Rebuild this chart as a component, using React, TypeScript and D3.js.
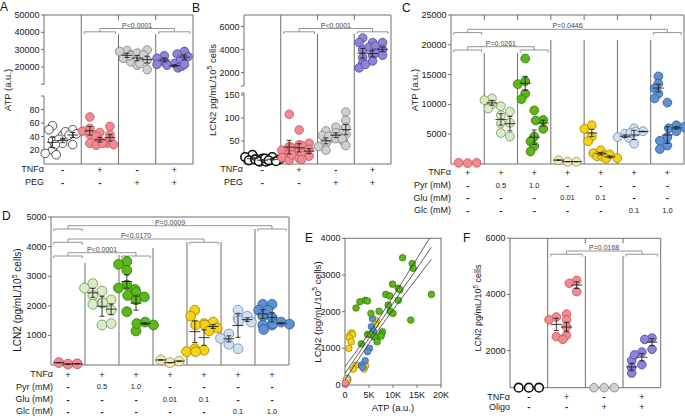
import React from "react";
import * as d3 from "d3";

const FONT = "'Liberation Sans', Arial, Helvetica, sans-serif";

// ---------------- colours ----------------
type Sty = { fill: string; stroke: string; sw?: number };
const S_OPEN: Sty = { fill: "#ffffff", stroke: "#2b2b2b" };
const S_OPEN_BOLD: Sty = { fill: "#ffffff", stroke: "#111111", sw: 1.6 };
const S_RED: Sty = { fill: "#f28a90", stroke: "#c0505c" };
const S_GRAY: Sty = { fill: "#d0d0d0", stroke: "#7c7c7c" };
const S_PURPLE: Sty = { fill: "#8c84d6", stroke: "#4e4698" };
const S_LGREEN: Sty = { fill: "#d8edc4", stroke: "#6f8f58" };
const S_GREEN: Sty = { fill: "#5ab818", stroke: "#357008" };
const S_PYELLOW: Sty = { fill: "#f2e9b4", stroke: "#978e55" };
const S_YELLOW: Sty = { fill: "#f6d114", stroke: "#9c8200" };
const S_LBLUE: Sty = { fill: "#cfe0f5", stroke: "#6f86a8" };
const S_BLUE: Sty = { fill: "#5e90d2", stroke: "#2f5b92" };

// ---------------- Panel A ----------------
const A_TNF = ["-", "+", "-", "+"];
const A_PEG = ["-", "-", "+", "+"];
const A_CTRL = [[56, 50, 34, 20, 15, 13], [42, 36, 30, 28], [50, 47, 44, 42, 28]];
const A_TNFA = [[69, 52, 48, 43, 30], [46, 40, 33, 27, 30], [55, 43, 35, 30, 28]];
const A_PEGV = [[29500, 29000, 27000, 25000, 23000], [28000, 26500, 25000, 21000], [29800, 27000, 24000, 22000, 18500]];
const A_BOTH = [[26500, 25000, 23000, 21500], [22000, 21000, 19500, 20500], [29000, 27500, 26000, 24500, 21500]];
const A_TICKS_LOW = [20, 40, 60, 80];
const A_TICKS_HIGH = [20000, 30000, 40000, 50000];

// ---------------- Panel B ----------------
const B_TNF = ["-", "+", "-", "+"];
const B_PEG = ["-", "-", "+", "+"];
const B_CTRL = [[20, 15, 10, 8, 5], [12, 10, 8, 6, 5], [15, 12, 10, 8, 6]];
const B_TNFA = [[108, 38, 30, 22, 14, 8], [74, 42, 35, 28, 20, 12], [45, 40, 32, 24, 17, 10]];
const B_PEGV = [[72, 62, 55, 45, 38, 30], [80, 68, 60, 55, 50], [113, 95, 80, 65, 55, 40]];
const B_BOTH = [[5000, 4600, 4000, 3300, 2800, 2400], [4600, 4200, 3900, 3500, 3000, 2700], [4600, 4300, 4000, 3700, 3500]];
const B_TICKS_LOW = [50, 100, 150];
const B_TICKS_HIGH = [2000, 4000, 6000];

// ---------------- Panels C & D conditions ----------------
const COND_TNF = ["+", "+", "+", "+", "+", "+", "+"];
const COND_PYR = ["-", "0.5", "1.0", "-", "-", "-", "-"];
const COND_GLU = ["-", "-", "-", "0.01", "0.1", "-", "-"];
const COND_GLC = ["-", "-", "-", "-", "-", "0.1", "1.0"];

// ---------------- Panel C (ATP) ----------------
const C_TNF = [[200], [150], [200]];
const C_PYR05 = [[11000, 10700, 10000, 9300], [9700, 8200, 6800, 5200], [8800, 6900, 4600]];
const C_PYR10 = [[17700, 13900, 13400, 11800, 10900], [9000, 4600, 3800, 3000, 2100], [7400, 7300, 5900]];
const C_GLU001 = [[650], [400], [400]];
const C_GLU01 = [[6500, 5900, 4600, 3800], [2300, 1800, 1500, 1300], [1600, 1300, 1000, 900]];
const C_GLC01 = [[5100, 4500, 4400], [6000, 5200, 3400], [5500, 5400]];
const C_GLC10 = [[14700, 13500, 12700, 11800, 11000], [10300, 4500, 3900, 3100, 2500], [6500, 6000, 5500, 6200]];
const C_TICKS = [5000, 10000, 15000, 20000, 25000];

// ---------------- Panel D (LCN2) ----------------
const D_TNF = [[80], [30], [40]];
const D_PYR05 = [[2750, 2600, 2350, 2050], [2500, 2100, 1350], [2200, 2100, 1850, 1400]];
const D_PYR10 = [[3500, 3400, 3200, 2700, 2600, 2550, 1800], [2450, 2350, 2300, 2200, 1150], [1450, 1400, 1350]];
const D_GLU001 = [[170], [80], [130]];
const D_GLU01 = [[1850, 1650, 550, 450], [1400, 1350, 500, 450], [1450, 1350, 1250, 1150]];
const D_GLC01 = [[1050, 900, 700], [1850, 1600, 550], [1650, 1500, 1450]];
const D_GLC10 = [[2050, 1850, 1650, 1350], [2050, 1850, 1600, 1350, 1200], [1450, 1400, 1380]];
const D_TICKS = [1000, 2000, 3000, 4000, 5000];

// ---------------- Panel E (correlation) ----------------
const E_PYR: [number, number][] = [
  [12000, 3470], [14000, 3310], [14200, 3180], [9900, 2750], [11100, 2640], [11400, 2600],
  [8500, 2470], [9300, 2430], [11100, 2310], [9000, 2180], [9400, 2010], [10000, 1950],
  [3100, 2270], [4200, 2310], [4700, 2290], [2300, 2100], [7100, 2010], [5400, 1950],
  [18000, 2470], [13700, 1770], [4700, 1380], [6100, 1320], [7800, 1450], [7600, 1380],
  [7500, 1330], [6700, 1180], [3400, 1120], [5300, 1380], [500, 180], [300, 120],
];
const E_GLU: [number, number][] = [
  [1400, 1420], [1000, 1360], [1600, 1380], [900, 1290], [1300, 1180], [800, 1000],
  [6500, 1750], [6300, 1650], [6600, 1330], [4300, 520], [4000, 430], [2300, 540],
  [1700, 430], [300, 160], [600, 130], [200, 80],
];
const E_GLC: [number, number][] = [
  [5700, 1810], [5500, 1590], [5900, 1470], [5400, 1380], [5100, 1000], [4700, 910],
  [4200, 660], [3400, 540], [3700, 480], [6200, 1300],
];
const E_TNFONLY: [number, number][] = [[60, 20], [120, 40], [80, 60]];
const E_GLULOW: [number, number][] = [[400, 170], [250, 90], [350, 130]];
const E_FIT_X = [0, 2500, 5000, 7500, 10000, 12500, 15000, 18000];
const E_FIT_MID = [318, 795, 1273, 1750, 2228, 2706, 3183, 3756];
const E_FIT_LO = [138, 645, 1135, 1600, 2048, 2485, 2915, 3426];
const E_FIT_HI = [498, 945, 1411, 1900, 2408, 2927, 3451, 4086];
const E_XTICKS = [0, 5000, 10000, 15000, 20000];
const E_YTICKS = [0, 1000, 2000, 3000, 4000];

// ---------------- Panel F ----------------
const F_TNF = ["-", "+", "-", "+"];
const F_OLIGO = ["-", "-", "+", "+"];
const F_CTRL = [[0], [0], [0]];
const F_TNFA = [[3200, 3100, 2500], [3300, 3100, 2850, 2550, 2400], [4500, 4400, 4100]];
const F_OLIGOV = [[0], [0], [0]];
const F_BOTH = [[1650, 1400, 1200], [1950, 1850, 1500], [2450, 2400, 2050]];
const F_TICKS = [2000, 4000, 6000];

// ---------------- generic dot panel ----------------
interface Bracket { from: number; to: number; level: number; text: string }
interface Row { label: string; values: string[]; y: number }
interface PanelSpec {
  left: number; right: number; top: number; bottom: number;
  yOf: (v: number) => number;
  segments: [number, number][];
  ticks: number[];
  groups: number[][][];
  styles: Sty[];
  r: number;
  resume: number[];
  stubs: boolean[];
  brackets: Bracket[];
  rows: Row[];
  rowX: number;
  noBarSingles?: boolean[];
}

function dodge(values: number[], cx: number, yOf: (v: number) => number, r: number) {
  const placed: { x: number; y: number }[] = [];
  const offs = [0, -0.85 * r, 0.85 * r, -1.7 * r, 1.7 * r];
  for (const v of values) {
    const y = yOf(v);
    let best = 0;
    let bestD = -1;
    for (const o of offs) {
      let md = Infinity;
      for (const q of placed) md = Math.min(md, Math.hypot(q.x - (cx + o), q.y - y));
      if (md >= 1.25 * r) { best = o; bestD = md; break; }
      if (md > bestD) { bestD = md; best = o; }
    }
    placed.push({ x: cx + best, y });
  }
  return placed;
}

const LINE = "#6e6e6e";

function DotPanel({ s }: { s: PanelSpec }) {
  const n = s.groups.length;
  const band = d3.scaleBand<number>().domain(d3.range(n)).range([s.left, s.right]);
  const w = band.bandwidth();
  const cx = (i: number) => (band(i) as number) + w / 2;
  const subX = (i: number, j: number, m: number) => cx(i) + (j - (m - 1) / 2) * 0.27 * w;
  const els: React.ReactNode[] = [];
  let k = 0;
  els.push(<path key={k++} d={`M${s.left},${s.top}H${s.right}V${s.bottom}H${s.left}`} fill="none" stroke={LINE} strokeWidth={1} />);
  s.segments.forEach(([a, b], idx) => {
    els.push(<line key={k++} x1={s.left} x2={s.left} y1={a} y2={b} stroke={LINE} strokeWidth={1} />);
    if (s.segments.length > 1) {
      if (idx > 0) els.push(<line key={k++} x1={s.left - 3} x2={s.left} y1={a} y2={a} stroke={LINE} />);
      if (idx < s.segments.length - 1) els.push(<line key={k++} x1={s.left - 3} x2={s.left} y1={b} y2={b} stroke={LINE} />);
    }
  });
  s.ticks.forEach((t) => {
    const y = s.yOf(t);
    els.push(<line key={k++} x1={s.left - 3} x2={s.left} y1={y} y2={y} stroke={LINE} />);
    els.push(
      <text key={k++} x={s.left - 4.5} y={y} textAnchor="end" dominantBaseline="central" fontSize={9} fill="#1a1a1a">
        {String(t)}
      </text>
    );
  });
  for (let i = 1; i < n; i++) {
    const x = band(i) as number;
    els.push(<line key={k++} x1={x} x2={x} y1={s.resume[i - 1]} y2={s.bottom} stroke={LINE} strokeWidth={1} />);
    if (s.stubs[i - 1]) els.push(<line key={k++} x1={x} x2={x} y1={s.top} y2={s.top + 5} stroke={LINE} />);
  }
  s.brackets.forEach((b) => {
    const by = b.level + 3.3;
    const drop = 2.3;
    const hw = 0.42 * w;
    const small = (c: number) => `M${c - hw},${by + drop}V${by}H${c + hw}V${by + drop}`;
    const c0 = cx(b.from);
    const c1 = cx(b.to);
    els.push(
      <path key={k++} d={`${small(c0)}M${c0},${by}V${b.level}H${c1}V${by}${small(c1)}`} fill="none" stroke="#7a7a7a" strokeWidth={0.8} />
    );
    els.push(
      <text key={k++} x={(c0 + c1) / 2} y={b.level - 0.9} textAnchor="middle" fontSize={7} fill="#444">
        {b.text}
      </text>
    );
  });
  s.groups.forEach((g, i) => {
    const st = s.styles[i];
    g.forEach((vals, j) => {
      const pts = dodge(vals, subX(i, j, g.length), s.yOf, s.r);
      pts.forEach((p) => {
        els.push(<circle key={k++} cx={p.x} cy={p.y} r={s.r} fill={st.fill} stroke={st.stroke} strokeWidth={st.sw ?? 0.8} />);
      });
    });
  });
  s.groups.forEach((g, i) => {
    if (s.noBarSingles && s.noBarSingles[i]) return;
    g.forEach((vals, j) => {
      const x = subX(i, j, g.length);
      const m = d3.mean(vals) as number;
      const sd = vals.length > 1 ? (d3.deviation(vals) as number) : 0;
      const se = sd / Math.sqrt(vals.length);
      const yM = s.yOf(m);
      const yHi = s.yOf(m + se);
      const yLo = s.yOf(Math.max(0, m - se));
      els.push(
        <path key={k++} d={`M${x - 5.5},${yM}H${x + 5.5}M${x},${yHi}V${yLo}M${x - 2.5},${yHi}H${x + 2.5}M${x - 2.5},${yLo}H${x + 2.5}`} fill="none" stroke="#222" strokeWidth={0.9} />
      );
    });
  });
  s.rows.forEach((row) => {
    els.push(
      <text key={k++} x={s.rowX} y={row.y} textAnchor="end" dominantBaseline="central" fontSize={9} fill="#1a1a1a">
        {row.label}
      </text>
    );
    row.values.forEach((v, i) => {
      const pm = v === "+" || v === "-";
      els.push(
        <text key={k++} x={cx(i)} y={row.y} textAnchor="middle" dominantBaseline="central" fontSize={pm ? 9.5 : 7.5} fontWeight={v === "-" ? "bold" : "normal"} fill="#1a1a1a">
          {v}
        </text>
      );
    });
  });
  return <g>{els}</g>;
}

// ---------------- scales ----------------
const aLow = d3.scaleLinear().domain([0, 100]).range([163.5, 96]);
const aHigh = d3.scaleLinear().domain([10000, 50000]).range([84.3, 15]);
const bLow = d3.scaleLinear().domain([0, 150]).range([164, 95]);
const bHigh = d3.scaleLinear().domain([1000, 7000]).range([84, 15]);
const cY = d3.scaleLinear().domain([0, 25000]).range([164, 15]);
const dY = d3.scaleLinear().domain([0, 5000]).range([365, 217]);
const fY = d3.scaleLinear().domain([680, 6000]).range([387.7, 238.3]).clamp(true);

const specA: PanelSpec = {
  left: 44, right: 193, top: 15, bottom: 164,
  yOf: (v) => (v > 100 ? aHigh(v) : aLow(v)),
  segments: [[15, 84.3], [96, 164]],
  ticks: [...A_TICKS_LOW, ...A_TICKS_HIGH],
  groups: [A_CTRL, A_TNFA, A_PEGV, A_BOTH],
  styles: [S_OPEN, S_RED, S_GRAY, S_PURPLE],
  r: 4.3,
  resume: [15, 34, 34],
  stubs: [false, true, true],
  brackets: [{ from: 1, to: 3, level: 28.5, text: "P<0.0001" }],
  rows: [{ label: "TNFα", values: A_TNF, y: 169 }, { label: "PEG", values: A_PEG, y: 182.3 }],
  rowX: 44,
};

const specB: PanelSpec = {
  left: 244, right: 391, top: 15, bottom: 164,
  yOf: (v) => (v > 150 ? bHigh(v) : bLow(v)),
  segments: [[15, 86], [93, 164]],
  ticks: [...B_TICKS_LOW, ...B_TICKS_HIGH],
  groups: [B_CTRL, B_TNFA, B_PEGV, B_BOTH],
  styles: [S_OPEN_BOLD, S_RED, S_GRAY, S_PURPLE],
  r: 4.3,
  resume: [15, 34, 34],
  stubs: [false, true, true],
  brackets: [{ from: 1, to: 3, level: 28.5, text: "P<0.0001" }],
  rows: [{ label: "TNFα", values: B_TNF, y: 169 }, { label: "PEG", values: B_PEG, y: 182.3 }],
  rowX: 243,
};

const specC: PanelSpec = {
  left: 451, right: 684, top: 15, bottom: 164,
  yOf: (v) => cY(v),
  segments: [[15, 164]],
  ticks: C_TICKS,
  groups: [C_TNF, C_PYR05, C_PYR10, C_GLU001, C_GLU01, C_GLC01, C_GLC10],
  styles: [S_RED, S_LGREEN, S_GREEN, S_PYELLOW, S_YELLOW, S_LBLUE, S_BLUE],
  r: 4.4,
  resume: [53, 53, 40, 40, 40, 40],
  stubs: [true, true, true, true, true, true],
  brackets: [
    { from: 0, to: 6, level: 29.3, text: "P=0.0446" },
    { from: 0, to: 2, level: 46.7, text: "P=0.0261" },
  ],
  rows: [
    { label: "TNFα", values: COND_TNF, y: 172.3 },
    { label: "Pyr (mM)", values: COND_PYR, y: 185 },
    { label: "Glu (mM)", values: COND_GLU, y: 197.7 },
    { label: "Glc (mM)", values: COND_GLC, y: 210.3 },
  ],
  rowX: 451,
  noBarSingles: [true, false, false, false, false, false, false],
};

const specD: PanelSpec = {
  left: 51, right: 289, top: 217, bottom: 365,
  yOf: (v) => dY(v),
  segments: [[217, 365]],
  ticks: D_TICKS,
  groups: [D_TNF, D_PYR05, D_PYR10, D_GLU001, D_GLU01, D_GLC01, D_GLC10],
  styles: [S_RED, S_LGREEN, S_GREEN, S_PYELLOW, S_YELLOW, S_LBLUE, S_BLUE],
  r: 4.9,
  resume: [263, 255, 248, 242, 242, 229],
  stubs: [false, false, false, false, false, false],
  brackets: [
    { from: 0, to: 6, level: 225.7, text: "P=0.0009" },
    { from: 0, to: 4, level: 239, text: "P<0.0170" },
    { from: 0, to: 2, level: 252.7, text: "P<0.0001" },
  ],
  rows: [
    { label: "TNFα", values: COND_TNF, y: 374.3 },
    { label: "Pyr (mM)", values: COND_PYR, y: 386.7 },
    { label: "Glu (mM)", values: COND_GLU, y: 399 },
    { label: "Glc (mM)", values: COND_GLC, y: 411.3 },
  ],
  rowX: 53,
};

const specF: PanelSpec = {
  left: 510, right: 660.7, top: 238.3, bottom: 387.7,
  yOf: (v) => fY(v),
  segments: [[238.3, 387.7]],
  ticks: F_TICKS,
  groups: [F_CTRL, F_TNFA, F_OLIGOV, F_BOTH],
  styles: [S_OPEN_BOLD, S_RED, S_GRAY, S_PURPLE],
  r: 4.3,
  resume: [238.3, 256, 256],
  stubs: [false, true, true],
  brackets: [{ from: 1, to: 3, level: 251, text: "P=0.0168" }],
  rows: [{ label: "TNFα", values: F_TNF, y: 396.7 }, { label: "Oligo", values: F_OLIGO, y: 406.7 }],
  rowX: 510,
  noBarSingles: [true, false, true, false],
};

// ---------------- Panel E ----------------
function PanelE() {
  const L = 345, R = 441, T = 238.3, B = 385;
  const x = d3.scaleLinear().domain([0, 20000]).range([L, R]);
  const y = d3.scaleLinear().domain([0, 4000]).range([B, T]);
  const mk = (ys: number[]) =>
    d3.line<number>().x((_, i) => x(E_FIT_X[i])).y((d) => y(d))(ys) as string;
  const sets: { pts: [number, number][]; st: Sty }[] = [
    { pts: E_GLU, st: S_YELLOW },
    { pts: E_GLC, st: S_BLUE },
    { pts: E_PYR, st: S_GREEN },
    { pts: E_GLULOW, st: S_PYELLOW },
    { pts: E_TNFONLY, st: S_RED },
  ];
  return (
    <g>
      <defs>
        <clipPath id="eclip">
          <rect x={L} y={T} width={R - L} height={B - T} />
        </clipPath>
      </defs>
      <rect x={L} y={T} width={R - L} height={B - T} fill="none" stroke={LINE} strokeWidth={1} />
      {E_YTICKS.map((t) => (
        <g key={"y" + t}>
          <line x1={L - 3} x2={L} y1={y(t)} y2={y(t)} stroke={LINE} />
          <text x={L - 4.5} y={y(t)} textAnchor="end" dominantBaseline="central" fontSize={9} fill="#1a1a1a">{String(t)}</text>
        </g>
      ))}
      {E_XTICKS.map((t) => (
        <g key={"x" + t}>
          <line x1={x(t)} x2={x(t)} y1={B} y2={B + 3} stroke={LINE} />
          <text x={x(t)} y={B + 10} textAnchor="middle" dominantBaseline="central" fontSize={9} fill="#1a1a1a">{t === 0 ? "0" : `${t / 1000}K`}</text>
        </g>
      ))}
      {sets.map((s, si) =>
        s.pts.map((p, i) => (
          <circle key={si + "-" + i} cx={x(p[0])} cy={y(p[1])} r={3.3} fill={s.st.fill} stroke={s.st.stroke} strokeWidth={0.7} />
        ))
      )}
      <g clipPath="url(#eclip)" fill="none" stroke="#333" strokeWidth={0.8}>
        <path d={mk(E_FIT_MID)} />
        <path d={mk(E_FIT_LO)} />
        <path d={mk(E_FIT_HI)} />
      </g>
      <text x={393} y={407} textAnchor="middle" dominantBaseline="central" fontSize={9.5} fill="#1a1a1a">ATP (a.u.)</text>
    </g>
  );
}

function LcnLabel({ x, y, paren, fs }: { x: number; y: number; paren: boolean; fs: number }) {
  return (
    <text transform={`translate(${x},${y}) rotate(-90)`} textAnchor="middle" dominantBaseline="central" fontSize={fs} fill="#1a1a1a">
      {paren ? "LCN2 (pg/mL/10" : "LCN2 pg/mL/10"}
      <tspan dy={-3} fontSize={fs * 0.7}>5</tspan>
      <tspan dy={3}>{paren ? " cells)" : " cells"}</tspan>
    </text>
  );
}

export default function App() {
  return (
    <svg width={685} height={420} style={{ position: "absolute", left: 0, top: 0, background: "#fff" }} fontFamily={FONT}>
      <rect x={0} y={0} width={685} height={420} fill="#fff" />
      <text x={0} y={11} fontSize={12} fill="#111">A</text>
      <text x={192} y={12} fontSize={12} fill="#111">B</text>
      <text x={402} y={12} fontSize={12} fill="#111">C</text>
      <text x={2} y={220} fontSize={12} fill="#111">D</text>
      <text x={305} y={242} fontSize={12} fill="#111">E</text>
      <text x={463} y={242} fontSize={12} fill="#111">F</text>

      <text transform="translate(7,90) rotate(-90)" textAnchor="middle" dominantBaseline="central" fontSize={9.5} fill="#1a1a1a">ATP (a.u.)</text>
      <LcnLabel x={212} y={90} paren={false} fs={9.5} />
      <text transform="translate(414,90) rotate(-90)" textAnchor="middle" dominantBaseline="central" fontSize={9.5} fill="#1a1a1a">ATP (a.u.)</text>
      <LcnLabel x={17} y={300} paren={true} fs={10} />
      <LcnLabel x={317} y={312} paren={true} fs={9.8} />
      <LcnLabel x={478} y={308} paren={false} fs={9} />

      <DotPanel s={specA} />
      <DotPanel s={specB} />
      <DotPanel s={specC} />
      <DotPanel s={specD} />
      <DotPanel s={specF} />
      <PanelE />
    </svg>
  );
}
